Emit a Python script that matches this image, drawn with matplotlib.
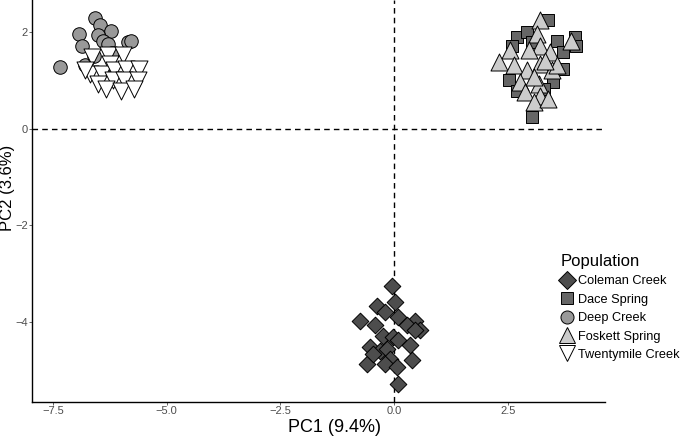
import matplotlib
matplotlib.use("Agg")
import matplotlib.pyplot as plt
from matplotlib.lines import Line2D

plt.rcParams['font.family'] = ['Liberation Sans', 'DejaVu Sans']

## PCA scores, one pair of lists per population.
coleman_x = [-0.06, -0.38, 0.02, -0.20, -0.75, -0.42, 0.09, 0.45, 0.27, 0.56,
             -0.24, -0.02, 0.09, 0.34, -0.53, -0.31, -0.17, -0.09, 0.38, -0.60,
             -0.20, 0.05, 0.09, 0.45, -0.46]
coleman_y = [-3.24, -3.65, -3.58, -3.79, -3.96, -4.06, -3.89, -3.96, -4.06, -4.16,
             -4.27, -4.30, -4.37, -4.47, -4.51, -4.58, -4.54, -4.75, -4.78, -4.85,
             -4.85, -4.92, -5.26, -4.16, -4.65]

dace_x = [3.38, 3.96, 4.00, 2.70, 2.91, 3.02, 3.57, 3.71, 2.52, 3.49,
          3.02, 2.59, 3.71, 2.70, 3.28]
dace_y = [2.23, 1.88, 1.71, 1.88, 1.99, 1.78, 1.81, 1.23, 0.99, 0.95,
          0.23, 1.71, 1.57, 0.78, 0.82]

deep_x = [-6.58, -6.47, -6.22, -6.92, -6.51, -6.39, -6.87, -5.85, -5.78, -7.34,
          -6.80, -6.29, -6.60, -6.20]
deep_y = [2.27, 2.14, 2.02, 1.95, 1.92, 1.81, 1.71, 1.78, 1.81, 1.26,
          1.30, 1.75, 1.50, 1.55]

foskett_x = [3.20, 3.13, 3.20, 2.55, 2.95, 3.42, 3.89, 2.30, 2.62, 2.91,
             3.20, 3.46, 3.57, 2.77, 3.17, 2.88, 3.20, 3.06, 3.38, 3.31, 3.06]
foskett_y = [2.23, 1.95, 1.71, 1.61, 1.61, 1.57, 1.81, 1.37, 1.30, 1.20,
             1.33, 1.20, 1.30, 0.95, 0.92, 0.75, 0.68, 0.54, 0.61, 1.40, 1.06]

twenty_x = [-6.65, -6.29, -5.96, -6.25, -6.69, -6.43, -6.15, -5.89, -5.60, -6.51,
            -6.18, -5.93, -5.64, -6.33, -6.00, -5.71, -6.80]
twenty_y = [1.47, 1.51, 1.51, 1.33, 1.13, 1.13, 1.20, 1.23, 1.23, 0.92,
            0.99, 0.99, 0.99, 0.82, 0.78, 0.82, 1.20]

populations = ['Coleman Creek', 'Dace Spring', 'Deep Creek', 'Foskett Spring', 'Twentymile Creek']
fills = ['#4d4d4d', '#666666', '#999999', '#cccccc', '#ffffff']
markers = ['D', 's', 'o', '^', 'v']
sizes = [72, 85, 95, 150, 150]
xs = [coleman_x, dace_x, deep_x, foskett_x, twenty_x]
ys = [coleman_y, dace_y, deep_y, foskett_y, twenty_y]

fig = plt.figure(figsize=(6.85, 4.37), dpi=100)
ax = fig.add_axes([32 / 685, 1 - 402 / 437, (605 - 32) / 685, 402 / 437])

ax.axhline(0, color='black', linestyle=(0, (4, 3)), linewidth=1, zorder=1)
ax.axvline(0, color='black', linestyle=(0, (4, 3)), linewidth=1, zorder=1)

for x, y, fc, m, s in zip(xs, ys, fills, markers, sizes):
    ax.scatter(x, y, s=s, marker=m, facecolor=fc, edgecolor='black',
               linewidth=0.7, zorder=2)

ax.set_xlim(-7.96, 4.63)
ax.set_ylim(-5.64, 2.65)
ax.set_xticks([-7.5, -5.0, -2.5, 0.0, 2.5])
ax.set_yticks([-4, -2, 0, 2])
ax.tick_params(colors='#4d4d4d', labelsize=8, length=2, width=0.6, pad=0.8)
for side in ['top', 'right']:
    ax.spines[side].set_visible(False)
for side in ['left', 'bottom']:
    ax.spines[side].set_linewidth(1)

ax.set_xlabel('PC1 (9.4%)', fontsize=13)
ax.set_ylabel('PC2 (3.6%)', fontsize=12)
ax.xaxis.set_label_coords((335 - 32) / 573, -(428 - 402) / 402)
ax.yaxis.set_label_coords(-(32 - 8) / 573, (402 - 188) / 402)
ax.xaxis.label.set_va('center')
ax.yaxis.label.set_va('center')

handles = [Line2D([], [], marker=m, linestyle='none', markerfacecolor=fc,
                  markeredgecolor='black', markeredgewidth=0.7,
                  markersize=ms)
           for m, fc, ms in zip(markers, fills, [9.5, 8.6, 9.4, 12, 12])]
leg = fig.legend(handles, populations, loc='upper left',
                 bbox_to_anchor=(561 / 685, 1 - 254 / 437), frameon=False,
                 title='Population', title_fontsize=12, fontsize=9.2,
                 handlelength=1.0, handletextpad=0.35, labelspacing=0.5,
                 borderaxespad=0, borderpad=0, alignment='left')

fig.savefig('out.png', dpi=100)
